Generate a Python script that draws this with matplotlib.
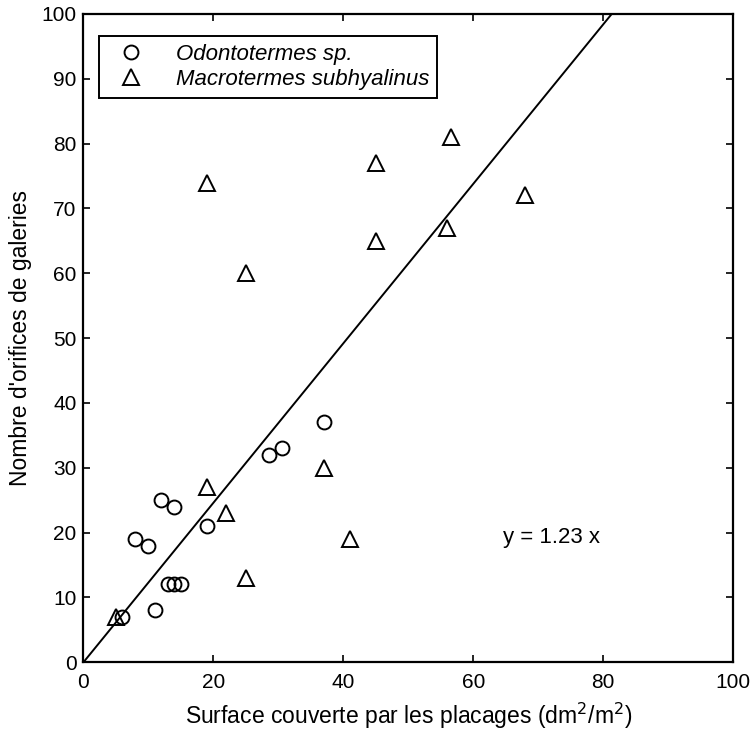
import matplotlib
matplotlib.use("Agg")
import matplotlib.pyplot as plt
import numpy as np

plt.rcParams['font.family'] = ['Liberation Sans', 'DejaVu Sans']

# Odontotermes sp.
odo_x = [6, 11, 13, 14, 15, 8, 10, 12, 14, 19, 28.5, 30.5, 37]
odo_y = [7, 8, 12, 12, 12, 19, 18, 25, 24, 21, 32, 33, 37]

# Macrotermes subhyalinus
mac_x = [5, 19, 22, 25, 37, 41, 19, 25, 45, 45, 56, 56.5, 68]
mac_y = [7, 27, 23, 13, 30, 19, 74, 60, 77, 65, 67, 81, 72]

slope = 1.23

fig = plt.figure(figsize=(7.52, 7.35), dpi=100)
ax = fig.add_axes([0.111, 0.099, 0.864, 0.882])

xl = np.array([0, 100 / slope])
ax.plot(xl, slope * xl, color='black', lw=1.4)

ax.plot(odo_x, odo_y, 'o', ms=10, mfc='none', mec='black', mew=1.4,
        label='Odontotermes sp.')
ax.plot(mac_x, mac_y, '^', ms=11.5, mfc='none', mec='black', mew=1.4,
        label='Macrotermes subhyalinus')

ax.text(72, 19.2, 'y = 1.23 x', fontsize=16, ha='center', va='center')

ax.set_xlim(0, 100)
ax.set_ylim(0, 100)
ax.set_xticks(range(0, 101, 20))
ax.set_yticks(range(0, 101, 10))
ax.tick_params(direction='in', top=True, right=True, length=5, width=1.2,
               labelsize=15)
ax.tick_params(axis='x', pad=8)
ax.tick_params(axis='y', pad=5)
for s in ax.spines.values():
    s.set_linewidth(1.6)

ax.set_xlabel('Surface couverte par les placages (dm$^2$/m$^2$)', fontsize=16.5, labelpad=6)
ax.set_ylabel("Nombre d'orifices de galeries", fontsize=16.5, labelpad=7)

leg = ax.legend(loc='upper left', bbox_to_anchor=(0.024, 0.966), borderaxespad=0,
                fancybox=False, edgecolor='black', framealpha=1,
                prop={'style': 'italic', 'size': 16}, handletextpad=0.9,
                handlelength=2.2, labelspacing=0.2, borderpad=0.35)
leg.get_frame().set_linewidth(1.4)

fig.savefig('out.png', dpi=100)
